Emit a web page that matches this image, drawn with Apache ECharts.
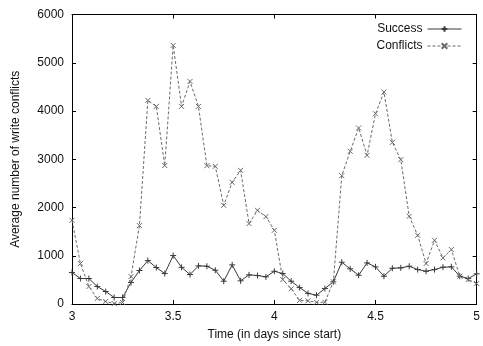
<!DOCTYPE html>
<html>
<head>
<meta charset="utf-8">
<script src="https://cdn.jsdelivr.net/npm/echarts@6/dist/echarts.min.js"></script>
<style>
  html, body { margin: 0; padding: 0; background: #fff; }
  #chart { width: 483px; height: 346px; }
</style>
</head>
<body>
<div id="chart"></div>
<script>
// Hourly samples from day 3 to day 5 (49 points)
const startDay = 3;
const hoursPerDay = 24;

const success = [
  652, 528, 528, 362, 259, 135, 135, 445, 694, 900,
  756, 631, 1004, 760, 610, 790, 783, 700, 472, 811,
  480, 604, 590, 563, 679, 631, 472, 340, 220, 182,
  320, 460, 866, 728, 596, 852, 770, 576, 741, 749,
  783, 714, 679, 714, 762, 770, 576, 528, 625
];

const conflicts = [
  1735, 838, 362, 114, 52, 10, 31, 569, 1625, 4220,
  4095, 2870, 5360, 4095, 4613, 4095, 2867, 2853, 2045, 2522,
  2770, 1667, 1942, 1811, 1528, 507, 315, 75, 66, 35,
  37, 460, 2660, 3164, 3648, 3081, 3944, 4393, 3350, 2992,
  1818, 1424, 838, 1321, 956, 1128, 576, 507, 424
];

const xTicks = [3, 3.5, 4, 4.5, 5];
const yTicks = [0, 1000, 2000, 3000, 4000, 5000, 6000];

const toPairs = vals => vals.map((v, i) => [startDay + i / hoursPerDay, v]);

const FONT = 'Liberation Sans, Arial, Helvetica, sans-serif';
const PLUS = 'path://M5,0L5,10M0,5L10,5';
const CROSS = 'path://M0,0L10,10M0,10L10,0';

const tickCommon = { show: true, inside: true, length: 4, lineStyle: { color: '#000', width: 1 } };
const lineCommon = { show: true, onZero: false, lineStyle: { color: '#000', width: 1 } };
const plainNumber = v => String(v);

const chart = echarts.init(document.getElementById('chart'), null, { renderer: 'canvas' });
chart.setOption({
  animation: false,
  backgroundColor: '#fff',
  textStyle: { fontFamily: FONT },
  grid: { left: 72, right: 2, top: 14.5, bottom: 41, containLabel: false },
  legend: {
    orient: 'vertical',
    right: 16,
    top: 18,
    align: 'right',
    itemWidth: 34,
    itemHeight: 7,
    itemGap: 5,
    lineStyle: { width: 1 },
    textStyle: { fontFamily: FONT, fontSize: 12, color: '#111' },
    data: ['Success', 'Conflicts']
  },
  xAxis: [{
    type: 'value',
    min: xTicks[0],
    max: xTicks[xTicks.length - 1],
    interval: 0.5,
    name: 'Time (in days since start)',
    nameLocation: 'middle',
    nameGap: 25,
    nameTextStyle: { fontFamily: FONT, fontSize: 12, color: '#111' },
    axisLine: lineCommon,
    axisTick: tickCommon,
    axisLabel: { fontFamily: FONT, fontSize: 12, color: '#111', margin: 7, formatter: plainNumber },
    splitLine: { show: false }
  }, {
    type: 'value',
    position: 'top',
    min: xTicks[0],
    max: xTicks[xTicks.length - 1],
    interval: 0.5,
    axisLine: lineCommon,
    axisTick: tickCommon,
    axisLabel: { show: false },
    splitLine: { show: false }
  }],
  yAxis: [{
    type: 'value',
    min: yTicks[0],
    max: yTicks[yTicks.length - 1],
    interval: 1000,
    name: 'Average number of write conflicts',
    nameLocation: 'middle',
    nameGap: 50,
    nameTextStyle: { fontFamily: FONT, fontSize: 12, color: '#111' },
    axisLine: lineCommon,
    axisTick: tickCommon,
    axisLabel: { fontFamily: FONT, fontSize: 12, color: '#111', margin: 8, formatter: plainNumber },
    splitLine: { show: false }
  }, {
    type: 'value',
    position: 'right',
    min: yTicks[0],
    max: yTicks[yTicks.length - 1],
    interval: 1000,
    axisLine: lineCommon,
    axisTick: tickCommon,
    axisLabel: { show: false },
    splitLine: { show: false }
  }],
  series: [{
    name: 'Success',
    type: 'line',
    xAxisIndex: 0,
    yAxisIndex: 0,
    data: toPairs(success),
    symbol: PLUS,
    symbolSize: 6,
    showSymbol: true,
    lineStyle: { color: '#3a3a3a', width: 1, type: 'solid' },
    itemStyle: { color: 'rgba(0,0,0,0)', borderColor: '#3a3a3a', borderWidth: 1 },
    emphasis: { disabled: true }
  }, {
    name: 'Conflicts',
    type: 'line',
    xAxisIndex: 0,
    yAxisIndex: 0,
    data: toPairs(conflicts),
    symbol: CROSS,
    symbolSize: 5,
    showSymbol: true,
    lineStyle: { color: '#6a6a6a', width: 1, type: [3, 2] },
    itemStyle: { color: 'rgba(0,0,0,0)', borderColor: '#6a6a6a', borderWidth: 1 },
    emphasis: { disabled: true }
  }]
});
</script>
</body>
</html>
